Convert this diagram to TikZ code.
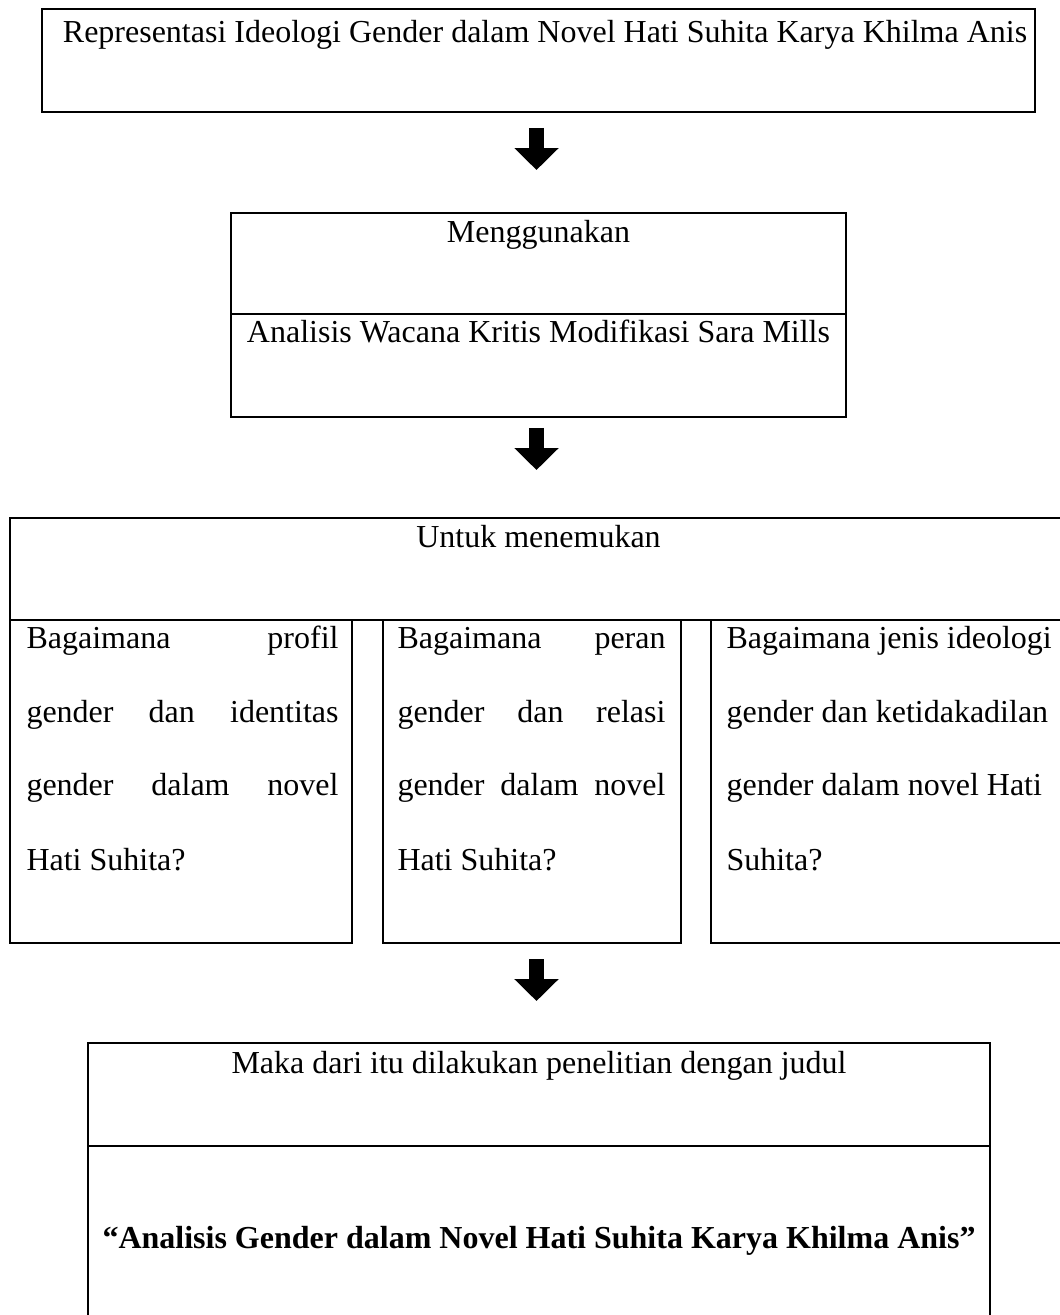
\documentclass[tikz,border=0pt]{standalone}
\usepackage{fontspec}
\setmainfont{Liberation Serif}
\usetikzlibrary{fit,arrows.meta}
\begin{document}
\begin{tikzpicture}[x=0.375pt,y=-0.375pt,
  box/.style={draw,line width=1.1pt,inner sep=0pt,rectangle},
  txt/.style={anchor=base,inner sep=0pt,font=\fontsize{12pt}{14pt}\selectfont},
  ltxt/.style={anchor=base west,inner sep=0pt,font=\fontsize{12pt}{14pt}\selectfont},
  blockarrow/.style={line width=5.6pt,-{Triangle[width=16.1pt,length=8.2pt]}}]
\useasboundingbox (0,0) rectangle (1060,1315);
\clip (0,0) rectangle (1060,1315);

% Box 1
\node[box,fit={(42,9) (1035,112)}] (b1) {};
\node[txt] (t1) at (545,43) {Representasi Ideologi Gender dalam Novel Hati Suhita Karya Khilma Anis};

% Arrow 1
\coordinate (a1s) at (536.5,128);
\coordinate (a1e) at (536.5,170);
\draw[blockarrow] (a1s) -- (a1e);

% Box 2
\node[box,fit={(231,213) (846,314)}] (b2a) {};
\node[box,fit={(231,314) (846,417)}] (b2b) {};
\node[txt] (t2a) at (538.5,243) {Menggunakan};
\node[txt] (t2b) at (538.5,343) {Analisis Wacana Kritis Modifikasi Sara Mills};

% Arrow 2
\coordinate (a2s) at (536.5,428);
\coordinate (a2e) at (536.5,470);
\draw[blockarrow] (a2s) -- (a2e);

% Box 3
\node[box,fit={(10,518) (1080,620)}] (b3) {};
\node[txt] (t3) at (538.5,547) {Untuk menemukan};
\node[box,fit={(10,620) (352,943)}] (q1) {};
\node[box,fit={(383,620) (681,943)}] (q2) {};
\node[box,fit={(711,620) (1080,943)}] (q3) {};

\node[ltxt] (q1l1) at (26,648) {\makebox[117pt][s]{Bagaimana profil}};
\node[ltxt] (q1l2) at (26,722) {\makebox[117pt][s]{gender dan identitas}};
\node[ltxt] (q1l3) at (26,795) {\makebox[117pt][s]{gender dalam novel}};
\node[ltxt] (q1l4) at (26,870) {Hati Suhita?};

\node[ltxt] (q2l1) at (397,648) {\makebox[100.5pt][s]{Bagaimana peran}};
\node[ltxt] (q2l2) at (397,722) {\makebox[100.5pt][s]{gender dan relasi}};
\node[ltxt] (q2l3) at (397,795) {\makebox[100.5pt][s]{gender dalam novel}};
\node[ltxt] (q2l4) at (397,870) {Hati Suhita?};

\node[ltxt] (q3l1) at (726,648) {Bagaimana jenis ideologi};
\node[ltxt] (q3l2) at (726,722) {gender dan ketidakadilan};
\node[ltxt] (q3l3) at (726,795) {gender dalam novel Hati};
\node[ltxt] (q3l4) at (726,870) {Suhita?};

% Arrow 3
\coordinate (a3s) at (536.5,959);
\coordinate (a3e) at (536.5,1001);
\draw[blockarrow] (a3s) -- (a3e);

% Box 4
\node[box,fit={(88,1043) (990,1146)}] (b4a) {};
\node[box,fit={(88,1146) (990,1330)}] (b4b) {};
\node[txt] (t4a) at (539,1073) {Maka dari itu dilakukan penelitian dengan judul};
\node[txt,font=\fontsize{12pt}{14pt}\selectfont\bfseries] (t4b) at (539,1248) {“Analisis Gender dalam Novel Hati Suhita Karya Khilma Anis”};
\end{tikzpicture}
\end{document}
